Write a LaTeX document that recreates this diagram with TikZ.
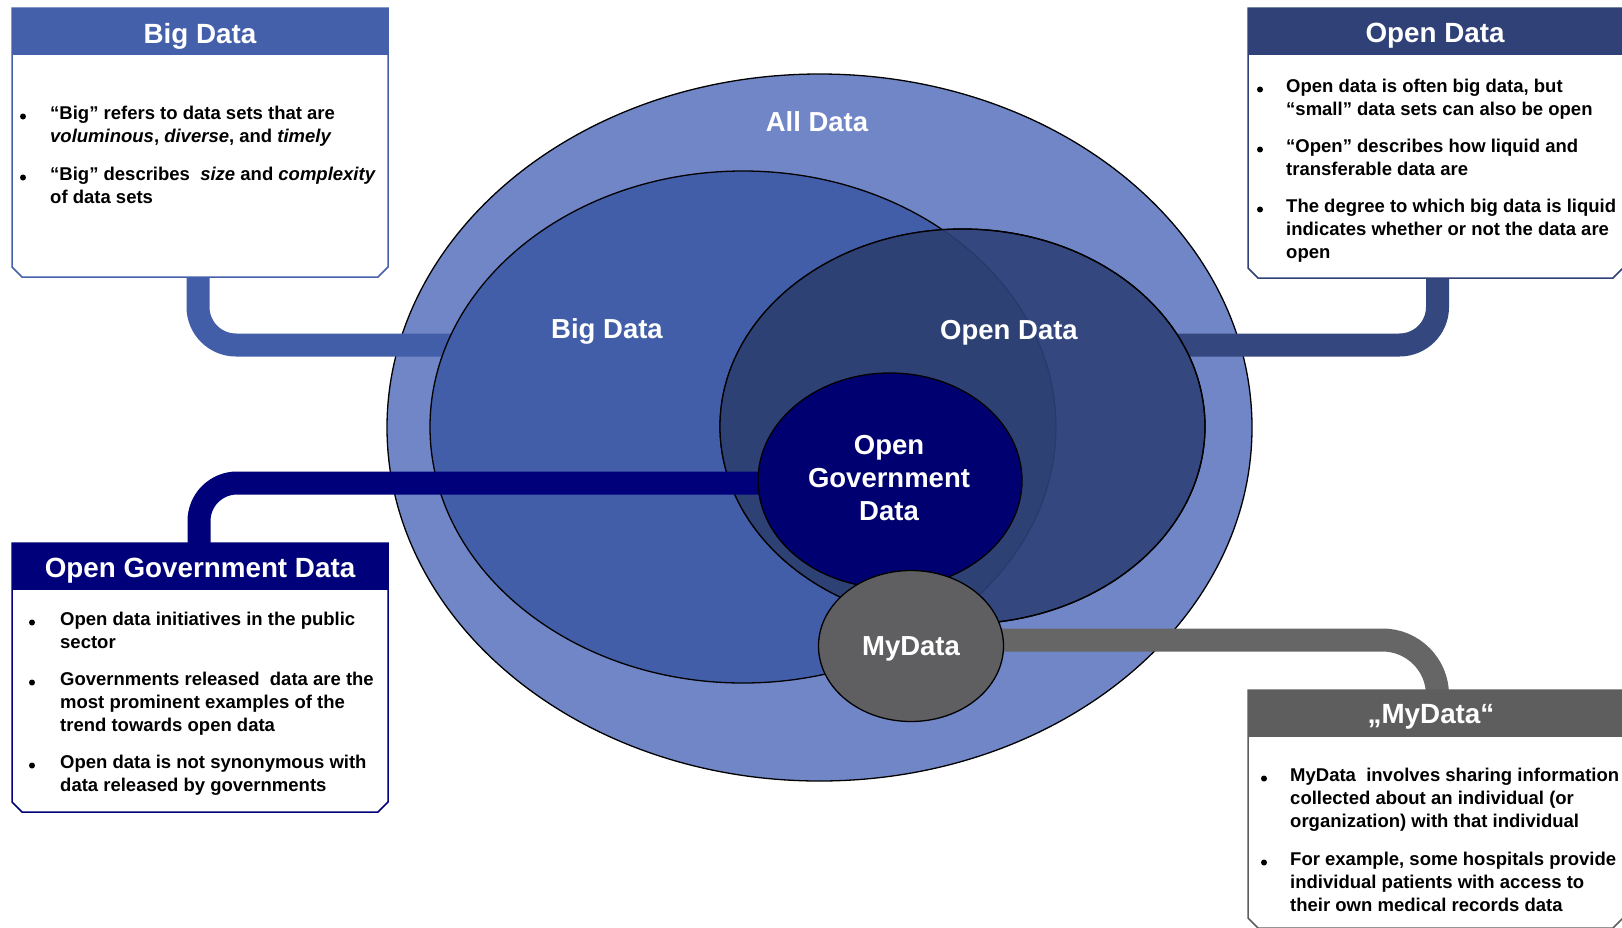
\documentclass[tikz,border=0pt]{standalone}
\usepackage{fontspec}
\setmainfont{Liberation Sans}
\usetikzlibrary{shapes.geometric}

\definecolor{allfill}{HTML}{7086C6}
\definecolor{bigfill}{HTML}{435EA8}
\definecolor{openfill}{HTML}{34487F}
\definecolor{openover}{HTML}{2E4175}
\definecolor{ogdfill}{HTML}{000070}
\definecolor{myfill}{HTML}{5F5F62}
\definecolor{bighdr}{HTML}{4560AA}
\definecolor{openhdr}{HTML}{2F4177}
\definecolor{ogdhdr}{HTML}{00007A}
\definecolor{myhdr}{HTML}{5E5E5E}
\definecolor{mybar}{HTML}{666666}
\definecolor{seam}{HTML}{27386A}

\tikzset{
  blob/.style={ellipse, draw=black, line width=1.3pt, inner sep=0pt, outer sep=0pt},
  bar/.style={line width=23pt, rounded corners=38pt},
  frame/.style={rectangle, inner sep=0pt, outer sep=0pt},
  hdrtext/.style={font=\fontsize{27.8}{33}\selectfont\bfseries, text=white, inner sep=0pt, anchor=base},
  lbl/.style={font=\fontsize{27.5}{33}\selectfont\bfseries, text=white, inner sep=0pt, anchor=base},
  body/.style={font=\fontsize{18.5}{23.3}\selectfont\bfseries, text=black, inner sep=0pt, anchor=base west},
}

% text panel with a coloured title strip and chamfered lower corners
\newcommand\panel[3]{%
  \draw[#2, line width=1.5pt, fill=white] (#1.north west) -- ([yshift=10pt]#1.south west)
    -- ([xshift=10pt]#1.south west) -- ([xshift=-10pt]#1.south east)
    -- ([yshift=10pt]#1.south east) -- (#1.north east) -- cycle;
  \fill[#3] (#1.north west) rectangle ([yshift=-47pt]#1.north east);
}
\newcommand\dotmark[2]{\fill (#1,#2) circle (3pt);}

\begin{document}
\begin{tikzpicture}[x=1pt, y=-1pt]
\useasboundingbox[fill=white] (0,0) rectangle (1622,927);

% panel frames (positions only)
\node[frame, minimum width=376pt, minimum height=269pt] (bigbox) at (200,142.5) {};
\node[frame, minimum width=375pt, minimum height=270pt] (odbox) at (1435.5,143) {};
\node[frame, minimum width=376pt, minimum height=269pt] (ogdbox) at (200,677.5) {};
\node[frame, minimum width=375pt, minimum height=238pt] (mybox) at (1435.5,809) {};

% outer set
\node[blob, fill=allfill, minimum width=865pt, minimum height=707pt] (allell) at (819.5,427.5) {};

\coordinate (bigend) at (480,345);
\coordinate (odend) at (1150,345);
\draw[bar, bigfill] ([xshift=-2pt]bigbox.south) |- (bigend);
\draw[bar, openfill] ([xshift=2pt]odbox.south) |- (odend);

% big data
\node[blob, fill=bigfill, minimum width=626pt, minimum height=512pt] (bigell) at (743,427) {};

% open data, darker where it overlaps big data
\node[blob, fill=openfill, minimum width=485pt, minimum height=395pt] (odell) at (962.5,426.5) {};
\begin{scope}
  \clip (bigell.center) ellipse [x radius=313pt, y radius=256pt];
  \fill[openover] (odell.center) ellipse [x radius=242.5pt, y radius=197.5pt];
\end{scope}
\begin{scope}
  \clip (odell.center) ellipse [x radius=242.5pt, y radius=197.5pt];
  \draw[seam, line width=1pt] (bigell.center) ellipse [x radius=313pt, y radius=256pt];
\end{scope}
\draw[black, line width=1.3pt] (odell.center) ellipse [x radius=242.5pt, y radius=197.5pt];

% open government data
\coordinate (ogdend) at (800,483);
\draw[bar, ogdhdr] ([xshift=-1pt]ogdbox.north) |- (ogdend);
\node[blob, fill=ogdfill, minimum width=264pt, minimum height=215pt] (ogdell) at (890,480.5) {};

% mydata
\coordinate (myend) at (960,640);
\draw[bar, mybar, rounded corners=55pt] ([xshift=2pt]mybox.north) |- (myend);
\node[blob, fill=myfill, minimum width=185pt, minimum height=151pt] (myell) at (911,646) {};

% set labels
\node[lbl] (alllbl) at (817,131) {All Data};
\node[lbl] (biglbl) at (607,338) {Big Data};
\node[lbl] (odlbl) at (1009,339) {Open Data};
\node[lbl] (ogdlbl) at (889,454) {\parbox[t]{220pt}{\centering Open\\Government\\Data}};
\node[lbl] (mylbl) at (911,655) {MyData};

% panels
\panel{bigbox}{bighdr}{bighdr}
\node[hdrtext] (bighead) at (200,43) {Big Data};
\dotmark{23}{116.5}
\node[body] (bigt1) at (50,119) {\parbox[t]{340pt}{\raggedright “Big” refers to data sets that are\\\textit{voluminous}, \textit{diverse}, and \textit{timely}}};
\dotmark{23}{177.5}
\node[body] (bigt2) at (50,180) {\parbox[t]{340pt}{\raggedright “Big” describes\ \ \textit{size} and \textit{complexity}\\of data sets}};

\panel{odbox}{openhdr}{openhdr}
\node[hdrtext] (odhead) at (1435,42) {Open Data};
\dotmark{1260}{89.5}
\node[body] (odt1) at (1286,92) {\parbox[t]{340pt}{\raggedright Open data is often big data, but\\“small” data sets can also be open}};
\dotmark{1260}{149.5}
\node[body] (odt2) at (1286,152) {\parbox[t]{340pt}{\raggedright “Open” describes how liquid and\\transferable data are}};
\dotmark{1260}{209.5}
\node[body] (odt3) at (1286,212) {\parbox[t]{340pt}{\raggedright The degree to which big data is liquid\\indicates whether or not the data are\\open}};

\panel{ogdbox}{ogdhdr}{ogdhdr}
\node[hdrtext] (ogdhead) at (200,577) {Open Government Data};
\dotmark{32}{622.5}
\node[body] (ogdt1) at (60,625) {\parbox[t]{330pt}{\raggedright Open data initiatives in the public\\sector}};
\dotmark{32}{682.5}
\node[body] (ogdt2) at (60,685) {\parbox[t]{330pt}{\raggedright Governments released\ \ data are the\\most prominent examples of the\\trend towards open data}};
\dotmark{32}{765.5}
\node[body] (ogdt3) at (60,768) {\parbox[t]{330pt}{\raggedright Open data is not synonymous with\\data released by governments}};

\panel{mybox}{myhdr}{myhdr}
\node[hdrtext] (myhead) at (1431,723) {„MyData“};
\dotmark{1264}{778.5}
\node[body] (myt1) at (1290,781) {\parbox[t]{340pt}{\raggedright MyData\ \ involves sharing information\\collected about an individual (or\\organization) with that individual}};
\dotmark{1264}{862.5}
\node[body] (myt2) at (1290,865) {\parbox[t]{340pt}{\raggedright For example, some hospitals provide\\individual patients with access to\\their own medical records data}};
\end{tikzpicture}
\end{document}
